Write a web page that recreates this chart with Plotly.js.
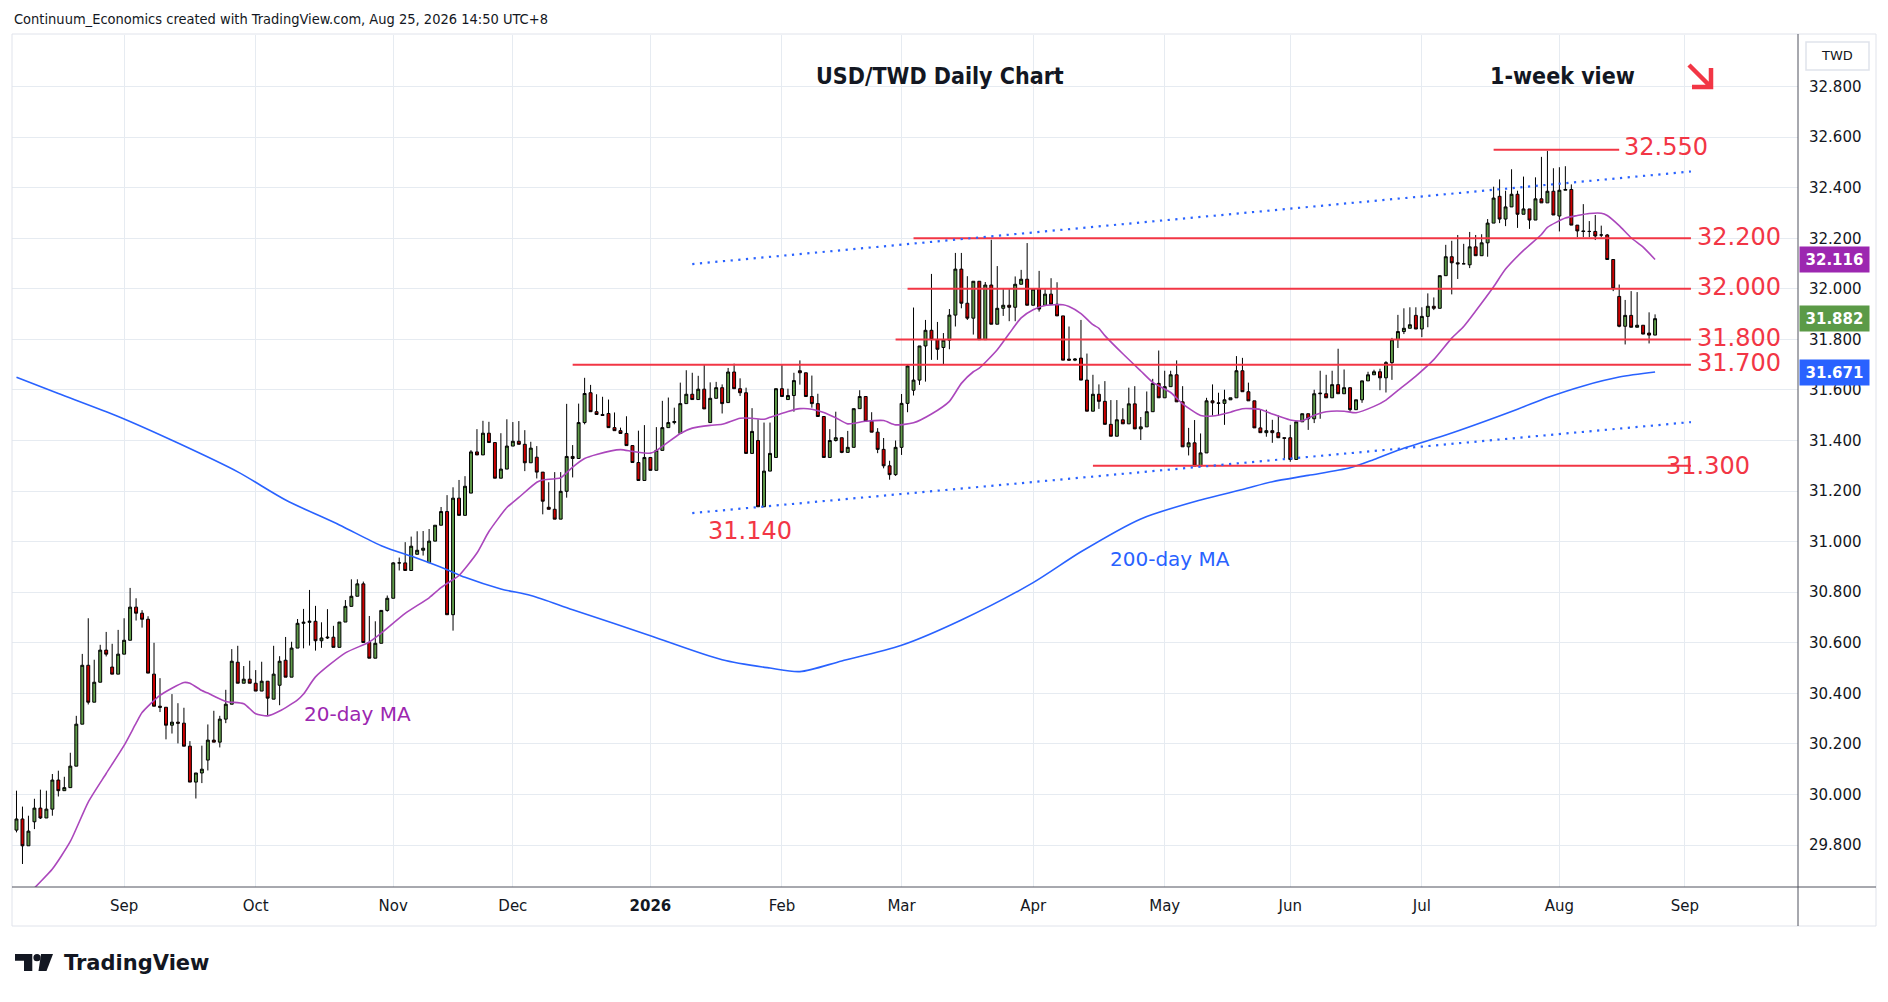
<!DOCTYPE html>
<html><head><meta charset="utf-8">
<script src="https://cdn.plot.ly/plotly-3.0.1.min.js"></script>
<style>html,body{margin:0;padding:0;background:#fff;}#chart{width:1888px;height:1002px;}</style>
</head><body><div id="chart"></div><script>
// ---------------- DATA ----------------
const firstBarDate = '2025-08-06';
const open = [
29.859,29.903,29.797,29.892,29.946,29.907,29.942,30.057,30.015,30.027,
30.112,30.278,30.511,30.365,30.444,30.571,30.504,30.476,30.555,30.610,
30.741,30.717,30.693,30.476,30.349,30.345,30.274,30.286,30.282,30.191,
30.049,30.085,30.136,30.215,30.207,30.298,30.357,30.523,30.440,30.456,
30.440,30.409,30.448,30.377,30.432,30.531,30.464,30.579,30.677,30.681,
30.685,30.608,30.619,30.622,30.582,30.682,30.744,30.784,30.833,30.601,
30.539,30.598,30.728,30.776,30.916,30.916,30.886,30.950,30.966,30.917,
31.002,31.065,31.119,30.711,31.172,31.104,31.192,31.355,31.343,31.429,
31.392,31.251,31.287,31.378,31.397,31.385,31.312,31.334,31.275,31.136,
31.128,31.089,31.199,31.337,31.329,31.471,31.589,31.514,31.503,31.507,
31.451,31.439,31.428,31.380,31.313,31.242,31.333,31.282,31.361,31.451,
31.471,31.428,31.546,31.583,31.562,31.603,31.471,31.567,31.609,31.550,
31.671,31.605,31.589,31.349,31.400,31.138,31.279,31.333,31.605,31.562,
31.578,31.676,31.668,31.574,31.546,31.495,31.333,31.400,31.411,31.353,
31.373,31.526,31.574,31.476,31.433,31.365,31.300,31.265,31.373,31.547,
31.599,31.639,31.774,31.836,31.799,31.768,31.797,31.896,32.078,31.943,
31.884,32.030,31.799,32.015,31.860,31.923,31.935,31.927,32.018,32.038,
31.935,31.999,31.935,31.979,31.939,31.893,31.722,31.718,31.726,31.639,
31.516,31.583,31.555,31.464,31.417,31.482,31.466,31.545,31.446,31.454,
31.514,31.626,31.569,31.613,31.660,31.553,31.375,31.391,31.299,31.351,
31.557,31.549,31.547,31.561,31.569,31.676,31.593,31.557,31.450,31.431,
31.439,31.431,31.411,31.411,31.325,31.474,31.506,31.486,31.585,31.585,
31.569,31.621,31.585,31.609,31.522,31.561,31.636,31.660,31.672,31.648,
31.708,31.799,31.831,31.844,31.895,31.841,31.891,31.931,31.923,32.052,
32.127,32.103,32.099,32.095,32.166,32.131,32.182,32.260,32.366,32.276,
32.324,32.374,32.295,32.316,32.272,32.356,32.340,32.386,32.288,32.390,
32.393,32.252,32.229,32.227,32.227,32.213,32.213,32.116,31.970,31.852,
31.895,31.848,31.856,31.825,31.817];
const high = [
30.015,29.952,29.916,29.983,30.019,30.015,30.081,30.094,30.070,30.165,
30.311,30.556,30.697,30.533,30.592,30.643,30.596,30.651,30.697,30.817,
30.776,30.729,30.705,30.600,30.460,30.345,30.397,30.361,30.343,30.211,
30.085,30.193,30.277,30.331,30.311,30.414,30.575,30.588,30.508,30.529,
30.492,30.525,30.448,30.588,30.547,30.623,30.604,30.694,30.734,30.809,
30.746,30.681,30.733,30.667,30.682,30.769,30.851,30.851,30.842,30.706,
30.685,30.728,30.787,30.919,30.937,30.998,31.020,31.041,31.042,31.050,
31.065,31.137,31.184,31.215,31.244,31.259,31.362,31.445,31.478,31.474,
31.392,31.429,31.484,31.473,31.477,31.441,31.395,31.378,31.275,31.235,
31.275,31.275,31.545,31.382,31.546,31.648,31.620,31.583,31.573,31.562,
31.511,31.451,31.496,31.380,31.439,31.461,31.333,31.453,31.557,31.570,
31.530,31.629,31.678,31.668,31.656,31.699,31.630,31.632,31.622,31.687,
31.704,31.646,31.609,31.528,31.484,31.471,31.471,31.605,31.699,31.605,
31.668,31.717,31.668,31.657,31.585,31.495,31.445,31.514,31.411,31.438,
31.526,31.599,31.574,31.512,31.449,31.410,31.320,31.400,31.584,31.702,
31.926,31.774,31.877,32.059,31.869,31.825,31.920,32.142,32.142,32.050,
32.030,32.030,32.027,32.194,32.090,31.999,31.999,32.049,32.075,32.181,
31.999,32.071,31.999,32.042,32.026,31.893,31.851,31.726,31.877,31.744,
31.660,31.622,31.635,31.560,31.560,31.528,31.609,31.615,31.493,31.594,
31.644,31.756,31.676,31.676,31.717,31.615,31.450,31.481,31.428,31.569,
31.622,31.589,31.601,31.569,31.734,31.727,31.629,31.557,31.522,31.522,
31.482,31.499,31.411,31.462,31.474,31.506,31.506,31.601,31.676,31.660,
31.676,31.763,31.681,31.609,31.561,31.636,31.672,31.680,31.684,31.714,
31.806,31.897,31.923,31.927,31.927,31.927,31.982,31.966,32.052,32.174,
32.190,32.213,32.178,32.225,32.213,32.216,32.276,32.404,32.433,32.388,
32.473,32.388,32.444,32.316,32.441,32.522,32.545,32.477,32.481,32.485,
32.413,32.252,32.335,32.268,32.292,32.250,32.217,32.116,32.017,31.956,
31.991,31.987,31.856,31.907,31.899];
const low = [
29.850,29.725,29.797,29.863,29.903,29.907,29.916,29.992,30.015,30.027,
30.112,30.278,30.356,30.365,30.444,30.546,30.476,30.476,30.555,30.610,
30.688,30.660,30.480,30.349,30.326,30.218,30.241,30.202,30.191,30.049,
29.984,30.045,30.095,30.207,30.186,30.282,30.357,30.440,30.440,30.440,
30.409,30.409,30.310,30.377,30.353,30.464,30.464,30.579,30.578,30.589,
30.569,30.580,30.615,30.582,30.582,30.682,30.744,30.784,30.601,30.539,
30.539,30.598,30.723,30.776,30.886,30.886,30.886,30.950,30.945,30.917,
31.002,31.065,30.711,30.648,31.104,31.104,31.192,31.343,31.343,31.392,
31.251,31.251,31.287,31.378,31.385,31.279,31.312,31.250,31.108,31.128,
31.089,31.089,31.174,31.254,31.329,31.464,31.514,31.503,31.499,31.451,
31.439,31.428,31.380,31.313,31.242,31.242,31.282,31.282,31.361,31.451,
31.464,31.428,31.546,31.562,31.562,31.525,31.471,31.567,31.507,31.550,
31.605,31.576,31.349,31.349,31.138,31.138,31.279,31.333,31.574,31.562,
31.514,31.621,31.574,31.530,31.495,31.333,31.333,31.396,31.350,31.353,
31.373,31.526,31.476,31.433,31.350,31.290,31.245,31.260,31.343,31.512,
31.578,31.620,31.633,31.719,31.719,31.699,31.761,31.851,31.923,31.877,
31.819,31.799,31.799,31.860,31.860,31.893,31.872,31.872,32.018,31.935,
31.935,31.910,31.935,31.939,31.893,31.718,31.718,31.714,31.639,31.516,
31.516,31.525,31.464,31.417,31.417,31.466,31.466,31.446,31.402,31.454,
31.514,31.569,31.569,31.613,31.553,31.375,31.341,31.299,31.299,31.351,
31.499,31.499,31.462,31.561,31.569,31.593,31.557,31.450,31.431,31.415,
31.391,31.411,31.328,31.316,31.325,31.474,31.442,31.469,31.486,31.569,
31.569,31.585,31.585,31.514,31.522,31.549,31.636,31.660,31.599,31.590,
31.640,31.766,31.821,31.844,31.841,31.809,31.848,31.916,31.923,32.052,
31.978,32.039,32.099,32.082,32.131,32.131,32.127,32.260,32.260,32.248,
32.324,32.241,32.295,32.237,32.272,32.340,32.340,32.292,32.227,32.390,
32.252,32.204,32.204,32.204,32.193,32.204,32.116,31.991,31.848,31.780,
31.848,31.848,31.821,31.784,31.817];
const close = [
29.903,29.797,29.855,29.946,29.907,29.942,30.057,30.015,30.027,30.112,
30.278,30.511,30.365,30.444,30.571,30.555,30.476,30.555,30.610,30.741,
30.717,30.693,30.480,30.349,30.345,30.274,30.286,30.282,30.191,30.049,
30.085,30.100,30.215,30.207,30.298,30.357,30.527,30.440,30.456,30.440,
30.409,30.448,30.381,30.476,30.527,30.464,30.579,30.677,30.681,30.685,
30.608,30.619,30.622,30.582,30.682,30.744,30.784,30.833,30.601,30.539,
30.598,30.728,30.776,30.916,30.916,30.886,30.982,30.966,30.974,31.002,
31.065,31.119,30.711,31.172,31.104,31.219,31.355,31.343,31.429,31.392,
31.251,31.287,31.378,31.397,31.385,31.312,31.370,31.275,31.160,31.128,
31.089,31.199,31.337,31.329,31.471,31.586,31.514,31.503,31.499,31.451,
31.439,31.428,31.380,31.313,31.242,31.333,31.282,31.361,31.451,31.471,
31.475,31.546,31.583,31.562,31.603,31.525,31.567,31.609,31.546,31.671,
31.605,31.589,31.349,31.436,31.138,31.279,31.349,31.605,31.574,31.578,
31.637,31.668,31.574,31.546,31.495,31.333,31.400,31.411,31.353,31.373,
31.526,31.574,31.476,31.433,31.365,31.300,31.265,31.373,31.547,31.695,
31.639,31.774,31.836,31.799,31.761,31.797,31.896,32.078,31.943,31.884,
32.030,31.799,32.015,31.860,31.923,31.935,31.927,32.018,32.038,31.935,
31.999,31.920,31.979,31.939,31.893,31.718,31.718,31.722,31.639,31.516,
31.583,31.555,31.464,31.417,31.482,31.466,31.545,31.446,31.454,31.514,
31.626,31.569,31.613,31.660,31.553,31.375,31.391,31.299,31.351,31.557,
31.549,31.547,31.561,31.569,31.676,31.593,31.557,31.450,31.431,31.439,
31.431,31.411,31.409,31.325,31.474,31.506,31.486,31.585,31.587,31.569,
31.621,31.585,31.609,31.522,31.561,31.636,31.660,31.672,31.648,31.708,
31.799,31.831,31.844,31.858,31.841,31.891,31.931,31.923,32.052,32.127,
32.103,32.099,32.099,32.166,32.131,32.182,32.260,32.359,32.276,32.324,
32.374,32.295,32.316,32.272,32.356,32.340,32.386,32.292,32.390,32.393,
32.252,32.229,32.227,32.227,32.209,32.213,32.116,32.001,31.852,31.895,
31.848,31.856,31.821,31.817,31.882];

// 20-day moving average at these bar numbers
const ma20Bars = [0,3,6,9,12,15,18,20,21,24,28,29,31,32,35,38,40,42,44,47,48,50,55,59,61,65,69,71,73,74,77,79,82,84,87,88,91,93,95,97,101,103,106,107,111,113,116,118,121,123,125,126,129,131,133,135,137,139,142,145,147,150,153,156,158,160,161,164,166,168,170,172,175,176,178,180,181,182,185,188,190,193,195,198,200,203,205,208,210,213,215,217,219,222,224,227,229,231,234,237,240,242,244,247,249,252,255,256,259,261,263,265,266,268,270,272,274];
const ma20 = [29.55,29.63,29.705,29.814,29.970,30.083,30.194,30.282,30.324,30.392,30.443,30.440,30.411,30.401,30.368,30.359,30.319,30.311,30.330,30.374,30.397,30.465,30.560,30.603,30.638,30.716,30.778,30.818,30.850,30.866,30.955,31.040,31.135,31.175,31.235,31.244,31.253,31.295,31.329,31.345,31.364,31.357,31.350,31.360,31.428,31.449,31.460,31.464,31.488,31.488,31.484,31.492,31.515,31.526,31.524,31.511,31.490,31.466,31.476,31.479,31.462,31.470,31.505,31.555,31.626,31.672,31.686,31.759,31.823,31.885,31.917,31.934,31.937,31.930,31.902,31.858,31.844,31.815,31.743,31.675,31.630,31.590,31.545,31.499,31.497,31.512,31.526,31.523,31.505,31.481,31.478,31.500,31.514,31.516,31.510,31.535,31.560,31.598,31.655,31.720,31.805,31.851,31.912,32.008,32.078,32.152,32.215,32.243,32.280,32.290,32.298,32.299,32.290,32.250,32.202,32.165,32.116];
// 200-day moving average
const ma200Bars = [0,7,17,27,37,45,54,61,67,72,75,81,86,93,106,118,126,131,138,148,158,170,178,188,198,205,210,216,223,227,231,240,251,256,262,268,274];
const ma200 = [31.650,31.586,31.495,31.390,31.276,31.165,31.066,30.984,30.934,30.889,30.859,30.813,30.787,30.731,30.628,30.533,30.500,30.486,30.528,30.590,30.690,30.838,30.960,31.090,31.165,31.206,31.237,31.262,31.292,31.325,31.362,31.430,31.524,31.570,31.616,31.651,31.671];

// horizontal levels drawn on the chart and their bar spans
const levels = [32.55, 32.2, 32.0, 31.8, 31.7, 31.3];
const levelFrom = [247, 150, 149, 147, 93, 180];
const levelTo = [268, 280, 280, 280, 280, 280];
const lowLabel = 31.14;
// rising channel (dotted): [startBar, startValue, endBar, endValue]
const channelUpper = [113, 32.098, 280, 32.464];
const channelLower = [113, 31.113, 280, 31.473];
const yTicks = [29.8,30.0,30.2,30.4,30.6,30.8,31.0,31.2,31.4,31.6,31.8,32.0,32.2,32.4,32.6,32.8];
const monthNames = ['Jan','Feb','Mar','Apr','May','Jun','Jul','Aug','Sep','Oct','Nov','Dec'];

// ---------------- BUILD ----------------
function businessDays(startISO, count){
  const out=[]; const d=new Date(startISO+'T00:00:00Z');
  while(out.length<count){const wd=d.getUTCDay(); if(wd!==0&&wd!==6) out.push(new Date(d)); d.setUTCDate(d.getUTCDate()+1);}
  return out;
}
const XMAX = 297.9;
const calendar = businessDays(firstBarDate, 300);
const bars = close.map((_,i)=>i);
const tickVals=[], tickText=[];
for(let i=1;i<calendar.length && i<=XMAX;i++){
  const m=calendar[i].getUTCMonth(), pm=calendar[i-1].getUTCMonth();
  if(m!==pm){ tickVals.push(i); tickText.push(m===0?'<b>'+calendar[i].getUTCFullYear()+'</b>':monthNames[m]); }
}
const FONT='DejaVu Sans, Verdana, sans-serif';
const FONTC='DejaVu Sans Condensed, DejaVu Sans, sans-serif';
const RED='#f23645', BLUE='#2962ff', PURPLE='#9c27b0', GREEN_TAG='#5b9a47';

const traces=[
 {type:'scatter',mode:'lines',x:ma200Bars,y:ma200,line:{color:BLUE,width:1.6,shape:'spline',smoothing:0.8},hoverinfo:'skip'},
 {type:'scatter',mode:'lines',x:ma20Bars,y:ma20,line:{color:'#ab47bc',width:1.6,shape:'spline',smoothing:0.6},hoverinfo:'skip'},
 {type:'candlestick',x:bars,open:open,high:high,low:low,close:close,whiskerwidth:0,
  increasing:{line:{color:'#000000',width:1},fillcolor:'#5e9a48'},
  decreasing:{line:{color:'#000000',width:1},fillcolor:'#cc0000'},hoverinfo:'skip'}
];

const X=px=>(px-12)/1786, Y=py=>(887-py)/852;
const shapes=[];
levels.forEach((v,i)=>shapes.push({type:'line',xref:'x',yref:'y',x0:levelFrom[i],x1:levelTo[i],y0:v,y1:v,line:{color:RED,width:2},layer:'above'}));
[channelUpper,channelLower].forEach(c=>shapes.push({type:'line',xref:'x',yref:'y',x0:c[0],y0:c[1],x1:c[2],y1:c[3],line:{color:BLUE,width:2.2,dash:'2.2px,5.5px'},layer:'above'}));
// frame
shapes.push({type:'rect',xref:'paper',yref:'paper',x0:0,x1:X(1876),y0:Y(926),y1:Y(34),line:{color:'#e0e3eb',width:1},layer:'above'});
shapes.push({type:'line',xref:'paper',yref:'paper',x0:1,x1:1,y0:Y(926),y1:Y(34),line:{color:'#50535e',width:1},layer:'above'});
shapes.push({type:'line',xref:'paper',yref:'paper',x0:0,x1:X(1876),y0:0,y1:0,line:{color:'#50535e',width:1},layer:'above'});
// currency box
shapes.push({type:'rect',xref:'paper',yref:'paper',x0:X(1806),x1:X(1869),y0:Y(70),y1:Y(42),line:{color:'#e0e3eb',width:1.5},fillcolor:'#ffffff',layer:'above'});
// red arrow
shapes.push({type:'path',xref:'paper',yref:'paper',xsizemode:'pixel',ysizemode:'pixel',xanchor:X(1711),yanchor:Y(87),
  path:'M -22 22 L -2 2 M 0 19 L 0 0 L -19 0',line:{color:RED,width:4.5},layer:'above'});
// TradingView mark
shapes.push({type:'path',xref:'paper',yref:'paper',xsizemode:'pixel',ysizemode:'pixel',xanchor:0,yanchor:0,
  path:'M 3 -67 L 20.3 -67 L 20.3 -84 L 12 -84 L 12 -73.7 L 3 -73.7 Z',fillcolor:'#131722',line:{width:0}});
shapes.push({type:'circle',xref:'paper',yref:'paper',xsizemode:'pixel',ysizemode:'pixel',xanchor:0,yanchor:0,
  x0:21.4,x1:28.6,y0:-74.3,y1:-67.1,fillcolor:'#131722',line:{width:0}});
shapes.push({type:'path',xref:'paper',yref:'paper',xsizemode:'pixel',ysizemode:'pixel',xanchor:0,yanchor:0,
  path:'M 29 -67 L 41 -67 L 34.5 -84 L 26.5 -84 Z',fillcolor:'#131722',line:{width:0}});

const ann=[];
ann.push({xref:'paper',yref:'paper',x:0,y:Y(19),xanchor:'left',yanchor:'middle',showarrow:false,
  text:'Continuum_Economics created with TradingView.com, Aug 25, 2026 14:50 UTC+8',font:{family:FONTC,size:14.5,color:'#131722'}});
ann.push({xref:'paper',yref:'paper',x:X(940),y:Y(76),xanchor:'center',yanchor:'middle',showarrow:false,
  text:'<b>USD/TWD Daily Chart</b>',font:{family:FONTC,size:23,color:'#131722'}});
ann.push({xref:'paper',yref:'paper',x:X(1562),y:Y(76),xanchor:'center',yanchor:'middle',showarrow:false,
  text:'<b>1-week view</b>',font:{family:FONTC,size:23,color:'#131722'}});
ann.push({xref:'paper',yref:'paper',x:X(1837),y:Y(56),xanchor:'center',yanchor:'middle',showarrow:false,
  text:'TWD',font:{family:FONT,size:13,color:'#131722'}});
ann.push({xref:'paper',yref:'paper',x:X(62),y:Y(963),xanchor:'left',yanchor:'middle',showarrow:false,
  text:'<b>TradingView</b>',font:{family:FONT,size:21,color:'#131722'}});
// level labels
const lvlLabelX=[275.8,288,288,288,288,282.9];
const lvlLabelDy=[0.01,0.006,0.006,0.006,0.006,0];
levels.forEach((v,i)=>ann.push({xref:'x',yref:'y',x:lvlLabelX[i],y:v+lvlLabelDy[i],xanchor:'center',yanchor:'middle',showarrow:false,
  text:v.toFixed(3),font:{family:FONT,size:24,color:RED}}));
ann.push({xref:'x',yref:'y',x:122.7,y:lowLabel-0.098,xanchor:'center',yanchor:'middle',showarrow:false,
  text:lowLabel.toFixed(3),font:{family:FONT,size:24,color:RED}});
ann.push({xref:'x',yref:'y',x:192.9,y:30.932,xanchor:'center',yanchor:'middle',showarrow:false,
  text:'200-day MA',font:{family:FONT,size:20,color:BLUE}});
ann.push({xref:'x',yref:'y',x:57.1,y:30.319,xanchor:'center',yanchor:'middle',showarrow:false,
  text:'20-day MA',font:{family:FONT,size:20,color:PURPLE}});
// price tags on the axis
[[ma20[ma20.length-1],PURPLE],[close[close.length-1],GREEN_TAG],[ma200[ma200.length-1],BLUE]].forEach(t=>ann.push({
  xref:'paper',yref:'y',x:X(1834.5),y:t[0],xanchor:'center',yanchor:'middle',showarrow:false,
  text:'<b>'+t[0].toFixed(3)+'</b>',font:{family:FONT,size:15,color:'#ffffff'},bgcolor:t[1],width:65,height:21,borderpad:2}));

const layout={
 width:1888,height:1002,margin:{l:12,r:90,t:35,b:115,pad:0},
 paper_bgcolor:'#ffffff',plot_bgcolor:'#ffffff',showlegend:false,hovermode:false,dragmode:false,
 xaxis:{type:'linear',range:[-0.75,XMAX],tickmode:'array',tickvals:tickVals,ticktext:tickText,
   showgrid:true,gridcolor:'#e6ebf1',gridwidth:1,zeroline:false,showline:false,ticks:'',
   ticklabelstandoff:8,tickfont:{family:FONT,size:15,color:'#131722'},rangeslider:{visible:false},fixedrange:true},
 yaxis:{side:'right',range:[29.634,33.004],tickmode:'array',tickvals:yTicks,ticktext:yTicks.map(v=>v.toFixed(3)),
   showgrid:true,gridcolor:'#e6ebf1',gridwidth:1,zeroline:false,showline:false,ticks:'',
   ticklabelstandoff:10,tickfont:{family:FONT,size:15,color:'#131722'},fixedrange:true},
 shapes:shapes,annotations:ann
};
Plotly.newPlot('chart',traces,layout,{staticPlot:true,displayModeBar:false});
</script></body></html>
